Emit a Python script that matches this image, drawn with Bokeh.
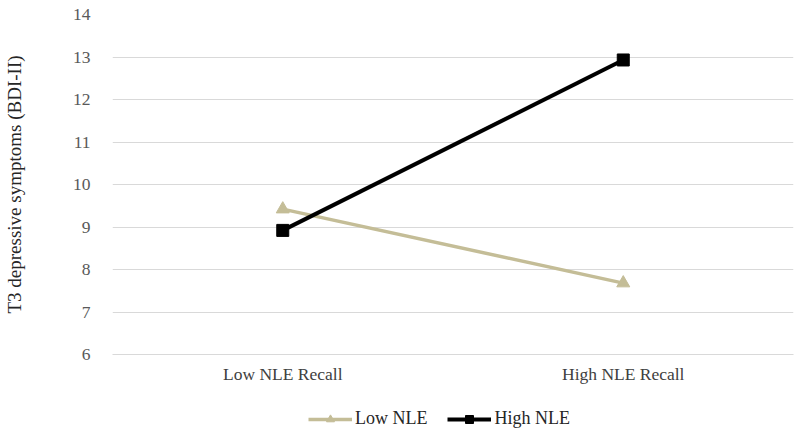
from bokeh.plotting import figure
from bokeh.models import FactorRange, Range1d, Legend, LegendItem, FixedTicker
from bokeh.layouts import column
from bokeh.embed import file_html
from bokeh.resources import INLINE

categories = ["Low NLE Recall", "High NLE Recall"]
low_nle = [9.42, 7.68]
high_nle = [8.92, 12.93]
y_ticks = [6, 7, 8, 9, 10, 11, 12, 13, 14]
series_names = ["Low NLE", "High NLE"]

FONT = "Liberation Serif"
TAN = "#C4BD97"


def add_series(fig, visible=True):
    r1l = fig.line(categories, low_nle, line_color=TAN, line_width=3.5, visible=visible)
    r1m = fig.scatter(categories, low_nle, marker="triangle", size=13,
                      fill_color=TAN, line_color=TAN, visible=visible)
    r2l = fig.line(categories, high_nle, line_color="black", line_width=4, visible=visible)
    r2m = fig.scatter(categories, high_nle, marker="square", size=12,
                      fill_color="black", line_color="black", visible=visible)
    return (r1l, r1m), (r2l, r2m)


p = figure(x_range=FactorRange(*categories), y_range=Range1d(6, 14),
           width=800, height=395, output_backend="svg", toolbar_location=None,
           min_border_left=112, min_border_right=7, min_border_top=14, min_border_bottom=41)
p.outline_line_color = None
add_series(p)

p.yaxis.ticker = FixedTicker(ticks=y_ticks)
p.yaxis.axis_line_color = None
p.yaxis.major_tick_line_color = None
p.yaxis.minor_tick_line_color = None
p.yaxis.major_label_standoff = 16
p.yaxis.major_label_text_color = "#595959"
p.yaxis.axis_label = "T3 depressive symptoms (BDI-II)"
p.yaxis.axis_label_text_font = FONT
p.yaxis.axis_label_text_font_style = "normal"
p.yaxis.axis_label_text_font_size = "19px"
p.yaxis.axis_label_text_color = "#262626"
p.yaxis.axis_label_standoff = 45

p.xaxis.axis_line_color = "#D9D9D9"
p.xaxis.axis_line_width = 1
p.xaxis.major_tick_line_color = None
p.xaxis.minor_tick_line_color = None
p.xaxis.major_label_standoff = 3
p.xaxis.major_label_text_color = "#404040"

for ax in (p.xaxis, p.yaxis):
    ax.major_label_text_font = FONT
    ax.major_label_text_font_size = "17.5px"

p.xgrid.grid_line_color = None
p.ygrid.grid_line_color = "#D9D9D9"
p.ygrid.grid_line_width = 1

# legend strip below the chart
leg = figure(x_range=FactorRange(*categories), y_range=Range1d(6, 14),
             width=800, height=36, output_backend="svg", toolbar_location=None,
             x_axis_type=None, y_axis_type=None,
             min_border_left=0, min_border_right=0, min_border_top=0, min_border_bottom=0)
leg.outline_line_color = None
leg.xgrid.grid_line_color = None
leg.ygrid.grid_line_color = None
s1, s2 = add_series(leg, visible=False)

legend = Legend(items=[LegendItem(label=series_names[0], renderers=list(s1)),
                       LegendItem(label=series_names[1], renderers=list(s2))],
                orientation="horizontal", location=(196, 2),
                label_text_font=FONT, label_text_font_size="18px",
                label_text_color="#262626", glyph_width=44, glyph_height=20,
                spacing=20, label_standoff=3, padding=0, margin=0,
                border_line_color=None, background_fill_alpha=0,
                inactive_fill_alpha=0)
leg.add_layout(legend, "center")

layout = column(p, leg, spacing=0)
open("out.html", "w").write(file_html(layout, INLINE))
